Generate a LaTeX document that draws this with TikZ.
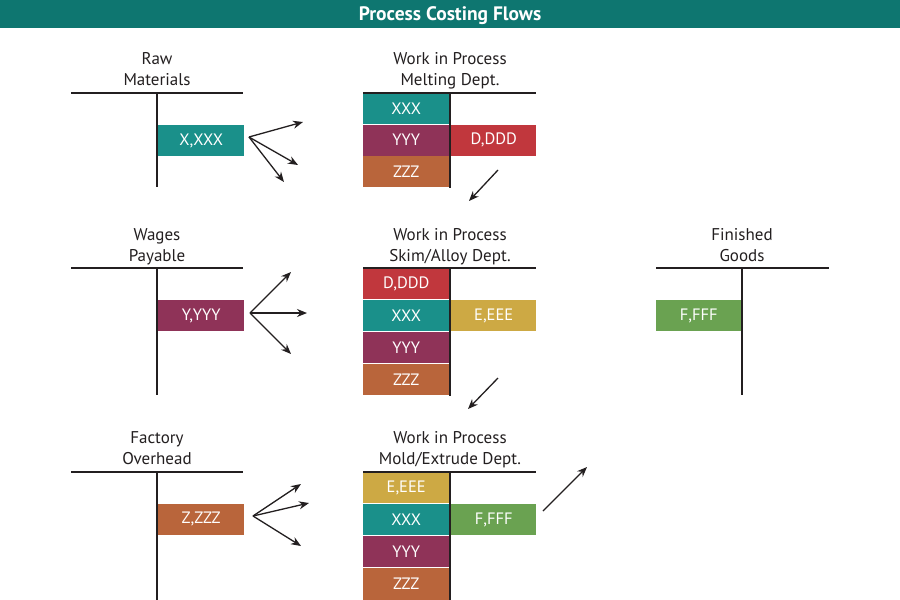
\documentclass[tikz,border=0pt]{standalone}
\usepackage{fontspec}
\setmainfont{PT Sans}
\usetikzlibrary{arrows.meta}
\definecolor{titlebar}{HTML}{0E7670}
\definecolor{cteal}{HTML}{1A908A}
\definecolor{cpurple}{HTML}{8F3358}
\definecolor{corange}{HTML}{B9653B}
\definecolor{cred}{HTML}{C1373D}
\definecolor{cmustard}{HTML}{CDA944}
\definecolor{cgreen}{HTML}{6AA251}
\definecolor{ink}{HTML}{231F20}
\tikzset{
  acct/.style={inner sep=0pt, minimum width=86pt, minimum height=31pt, text=white, font=\fontsize{16.5}{16.5}\selectfont, anchor=north west},
  ttl/.style={align=center, text=ink, font=\fontsize{17}{21}\selectfont, inner sep=0pt},
  tline/.style={draw=ink, line width=1.3pt},
  flow/.style={draw=ink, line width=1.3pt, -{Stealth[length=10pt,width=8pt]}}
}
\begin{document}
\begin{tikzpicture}[x=1pt,y=-1pt]
\useasboundingbox (0,0) rectangle (900,600);
\fill[white] (0,0) rectangle (900,600);
% title bar
\fill[titlebar] (0,0) rectangle (900,28);
\node[text=white, font=\fontsize{19.5}{19.5}\selectfont\bfseries] (title) at (450,16) {Process Costing Flows};

% ---------- Raw Materials
\node[ttl] (rmT) at (157,69) {Raw\\Materials};
\coordinate (rmL) at (71,93); \coordinate (rmR) at (243,93);
\coordinate (rmV) at (157,93); \coordinate (rmB) at (157,187);
\draw[tline] (rmL) -- (rmR); \draw[tline] (rmV) -- (rmB);
\node[acct, fill=cteal] (rmX) at (158,125) {X,XXX};
\coordinate (rmO) at (249,137);
\coordinate (rmA1) at (303,122); \coordinate (rmA2) at (298,165); \coordinate (rmA3) at (284,182);
\draw[flow] (rmO) -- (rmA1); \draw[flow] (rmO) -- (rmA2); \draw[flow] (rmO) -- (rmA3);

% ---------- WIP Melting
\node[ttl] (wmT) at (450,71) {Work in Process\\Melting Dept.};
\coordinate (wmL) at (363,93); \coordinate (wmR) at (536,93);
\coordinate (wmV) at (450,93); \coordinate (wmB) at (450,188);
\node[acct, fill=cteal] (wm1) at (363,93) {XXX};
\node[acct, fill=cpurple] (wm2) at (363,124.5) {YYY};
\node[acct, fill=corange] (wm3) at (363,156) {ZZZ};
\node[acct, fill=cred, minimum width=85pt] (wmD) at (451,124.5) {D,DDD};
\draw[tline] (wmL) -- (wmR); \draw[tline] (wmV) -- (wmB);
\coordinate (wmS) at (498,170); \coordinate (wmE) at (469,201);
\draw[flow] (wmS) -- (wmE);

% ---------- Wages Payable
\node[ttl] (wpT) at (157,247) {Wages\\Payable};
\coordinate (wpL) at (71,268); \coordinate (wpR) at (243,268);
\coordinate (wpV) at (157,268); \coordinate (wpB) at (157,395);
\draw[tline] (wpL) -- (wpR); \draw[tline] (wpV) -- (wpB);
\node[acct, fill=cpurple] (wpY) at (158,300) {Y,YYY};
\coordinate (wpO) at (250,313);
\coordinate (wpA1) at (291,272); \coordinate (wpA2) at (307,313); \coordinate (wpA3) at (291,354);
\draw[flow] (wpO) -- (wpA1); \draw[flow] (wpO) -- (wpA2); \draw[flow] (wpO) -- (wpA3);

% ---------- WIP Skim/Alloy
\node[ttl] (wsT) at (450,247) {Work in Process\\Skim/Alloy Dept.};
\coordinate (wsL) at (363,268); \coordinate (wsR) at (536,268);
\coordinate (wsV) at (450,268); \coordinate (wsB) at (450,396);
\node[acct, fill=cred] (ws1) at (363,268) {D,DDD};
\node[acct, fill=cteal] (ws2) at (363,300) {XXX};
\node[acct, fill=cpurple] (ws3) at (363,332) {YYY};
\node[acct, fill=corange] (ws4) at (363,364) {ZZZ};
\node[acct, fill=cmustard, minimum width=85pt] (wsE) at (451,300) {E,EEE};
\draw[tline] (wsL) -- (wsR); \draw[tline] (wsV) -- (wsB);
\coordinate (wsS) at (498,378); \coordinate (wsE2) at (468,409);
\draw[flow] (wsS) -- (wsE2);

% ---------- Finished Goods
\node[ttl] (fgT) at (742,245) {Finished\\Goods};
\coordinate (fgL) at (656,268); \coordinate (fgR) at (829,268);
\coordinate (fgV) at (742,268); \coordinate (fgB) at (742,395);
\node[acct, fill=cgreen, minimum width=85pt] (fgF) at (656,300) {F,FFF};
\draw[tline] (fgL) -- (fgR); \draw[tline] (fgV) -- (fgB);

% ---------- Factory Overhead
\node[ttl] (foT) at (157,448) {Factory\\Overhead};
\coordinate (foL) at (71,472); \coordinate (foR) at (243,472);
\coordinate (foV) at (157,472); \coordinate (foB) at (157,600);
\draw[tline] (foL) -- (foR); \draw[tline] (foV) -- (foB);
\node[acct, fill=corange] (foZ) at (158,503.5) {Z,ZZZ};
\coordinate (foO) at (253,516);
\coordinate (foA1) at (301,484); \coordinate (foA2) at (309,503); \coordinate (foA3) at (301,546);
\draw[flow] (foO) -- (foA1); \draw[flow] (foO) -- (foA2); \draw[flow] (foO) -- (foA3);

% ---------- WIP Mold/Extrude
\node[ttl] (weT) at (450,450) {Work in Process\\Mold/Extrude Dept.};
\coordinate (weL) at (363,472); \coordinate (weR) at (536,472);
\coordinate (weV) at (450,472); \coordinate (weB) at (450,600);
\node[acct, fill=cmustard] (we1) at (363,472) {E,EEE};
\node[acct, fill=cteal] (we2) at (363,504) {XXX};
\node[acct, fill=cpurple] (we3) at (363,536) {YYY};
\node[acct, fill=corange, minimum height=32pt] (we4) at (363,568) {ZZZ};
\node[acct, fill=cgreen, minimum width=85pt] (weF) at (451,504) {F,FFF};
\draw[tline] (weL) -- (weR); \draw[tline] (weV) -- (weB);
\coordinate (weS) at (543,511); \coordinate (weE) at (587,467);
\draw[flow] (weS) -- (weE);
\end{tikzpicture}
\end{document}
